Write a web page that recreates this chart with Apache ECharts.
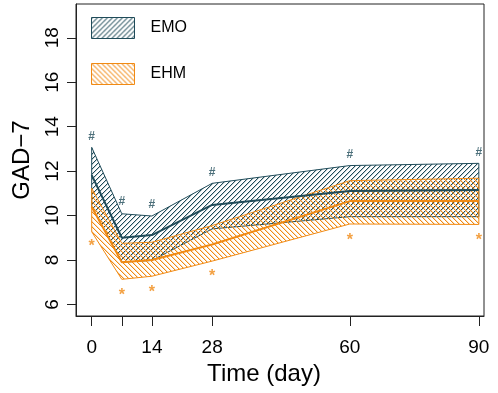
<!DOCTYPE html>
<html>
<head>
<meta charset="utf-8">
<script src="https://cdn.jsdelivr.net/npm/echarts@6/dist/echarts.min.js"></script>
<style>
  html, body { margin: 0; padding: 0; background: #fff; }
  #chart { width: 498px; height: 393px; }
</style>
</head>
<body>
<div id="chart"></div>
<script>
// time points (day)
var days = [0, 7, 14, 28, 60, 90];
var dayTicks = [0, 7, 14, 28, 60, 90];
var dayLabels = [0, 14, 28, 60, 90];
var yTicks = [6, 8, 10, 12, 14, 16, 18];

// EMO group
var emoMean = [11.82, 9.0, 9.12, 10.48, 11.1, 11.15];
var emoUpper = [13.07, 10.08, 9.98, 11.45, 12.25, 12.35];
var emoLower = [10.4, 7.9, 7.98, 9.4, 9.95, 9.95];
var emoMark = [13.53, 10.62, 10.47, 11.93, 12.75, 12.85];

// EHM group
var ehmMean = [10.4, 7.9, 8.0, 8.7, 10.65, 10.65];
var ehmUpper = [11.23, 8.75, 8.8, 9.55, 11.57, 11.68];
var ehmLower = [9.27, 7.13, 7.27, 7.95, 9.62, 9.6];
var ehmMark = [8.78, 6.6, 6.71, 7.45, 9.07, 9.07];

var teal = '#1f4b59';
var orange = '#f08a14';
var font = 'Liberation Sans, Arial, Helvetica, sans-serif';

// 斜线填充 (逐像素画, 线条清晰)
function hatch(hex, dir) {
    var s = 5;
    var c = document.createElement('canvas');
    c.width = s; c.height = s;
    var g = c.getContext('2d');
    var img = g.createImageData(s, s);
    var r = parseInt(hex.substr(1, 2), 16),
        gg = parseInt(hex.substr(3, 2), 16),
        b = parseInt(hex.substr(5, 2), 16);
    for (var y = 0; y < s; y++) {
        for (var x = 0; x < s; x++) {
            var d = dir > 0 ? (x + y) % s : ((x - y) % s + s) % s;
            var a = d === 0 ? 255 : (d === 1 ? 70 : 0);
            var p = (y * s + x) * 4;
            img.data[p] = r; img.data[p + 1] = gg; img.data[p + 2] = b; img.data[p + 3] = a;
        }
    }
    g.putImageData(img, 0, 0);
    return { image: c, repeat: 'repeat' };
}

var emoFill = hatch(teal, 1);
var ehmFill = hatch(orange, -1);

function zip3(a, b, c) {
    return a.map(function (v, i) { return [v, b[i], c[i]]; });
}
function zip2(a, b) {
    return a.map(function (v, i) { return [v, b[i]]; });
}

function bandRender(fill, color) {
    return function (params, api) {
        if (params.dataIndex !== 0) return;
        var n = params.dataInsideLength;
        var pts = [];
        for (var i = 0; i < n; i++) {
            pts.push(api.coord([api.value(0, i), api.value(2, i)]));
        }
        for (var j = n - 1; j >= 0; j--) {
            pts.push(api.coord([api.value(0, j), api.value(1, j)]));
        }
        return {
            type: 'polygon',
            shape: { points: pts },
            style: { fill: fill, stroke: color, lineWidth: 1 }
        };
    };
}

var chart = echarts.init(document.getElementById('chart'));
chart.setOption({
    animation: false,
    grid: {
        left: 76, right: 14, top: 4, bottom: 77,
        show: true, borderColor: '#222', borderWidth: 1
    },
    legend: {
        orient: 'vertical',
        left: 91, top: 17, padding: 0,
        itemWidth: 43, itemHeight: 21, itemGap: 24,
        icon: 'rect',
        selectedMode: false,
        textStyle: { fontFamily: font, fontSize: 16, color: '#000', padding: [0, 0, 0, 11] },
        data: [
            { name: 'EMO', itemStyle: { color: emoFill, borderColor: teal, borderWidth: 1 } },
            { name: 'EHM', itemStyle: { color: ehmFill, borderColor: orange, borderWidth: 1 } }
        ]
    },
    xAxis: {
        type: 'value',
        min: -3.65, max: 91.2,
        name: 'Time (day)',
        nameLocation: 'middle',
        nameGap: 44,
        nameTextStyle: { fontFamily: font, fontSize: 24, color: '#000', padding: [0, 32, 0, 0] },
        axisLine: { show: true, onZero: false, lineStyle: { color: '#222', width: 1 } },
        axisTick: { show: true, length: 10, customValues: dayTicks, lineStyle: { color: '#222' } },
        axisLabel: { customValues: dayLabels, margin: 22, fontFamily: font, fontSize: 19, color: '#000' },
        splitLine: { show: false }
    },
    yAxis: {
        type: 'value',
        min: 5.48, max: 19.52,
        name: 'GAD\u22127',
        nameLocation: 'middle',
        nameRotate: 90,
        nameGap: 42,
        nameTextStyle: { fontFamily: font, fontSize: 24, color: '#000' },
        axisLine: { show: true, onZero: false, lineStyle: { color: '#222', width: 1 } },
        axisTick: { show: true, length: 9, customValues: yTicks, lineStyle: { color: '#222' } },
        axisLabel: { customValues: yTicks, rotate: 90, margin: 14, fontFamily: font, fontSize: 19, color: '#000' },
        splitLine: { show: false }
    },
    series: [
        {
            name: 'EMO', type: 'custom',
            itemStyle: { color: emoFill },
            renderItem: bandRender(emoFill, teal),
            encode: { x: 0, y: [1, 2] },
            data: zip3(days, emoLower, emoUpper), z: 1
        },
        {
            name: 'EHM', type: 'custom',
            itemStyle: { color: ehmFill },
            renderItem: bandRender(ehmFill, orange),
            encode: { x: 0, y: [1, 2] },
            data: zip3(days, ehmLower, ehmUpper), z: 2
        },
        {
            name: 'EMO mean', type: 'line', symbol: 'none', z: 3,
            lineStyle: { color: teal, width: 2 },
            data: zip2(days, emoMean)
        },
        {
            name: 'EHM mean', type: 'line', symbol: 'none', z: 3,
            lineStyle: { color: orange, width: 2 },
            data: zip2(days, ehmMean)
        },
        {
            name: 'EMO sig', type: 'scatter', symbolSize: 0, z: 4,
            label: { show: true, position: 'inside', formatter: '#', color: teal, fontFamily: font, fontSize: 12, fontWeight: 'bold' },
            data: zip2(days, emoMark)
        },
        {
            name: 'EHM sig', type: 'scatter', symbolSize: 0, z: 4,
            label: { show: true, position: 'inside', formatter: '*', color: orange, fontFamily: font, fontSize: 16, fontWeight: 'bold', offset: [0, 4] },
            data: zip2(days, ehmMark)
        }
    ]
});
</script>
</body>
</html>
